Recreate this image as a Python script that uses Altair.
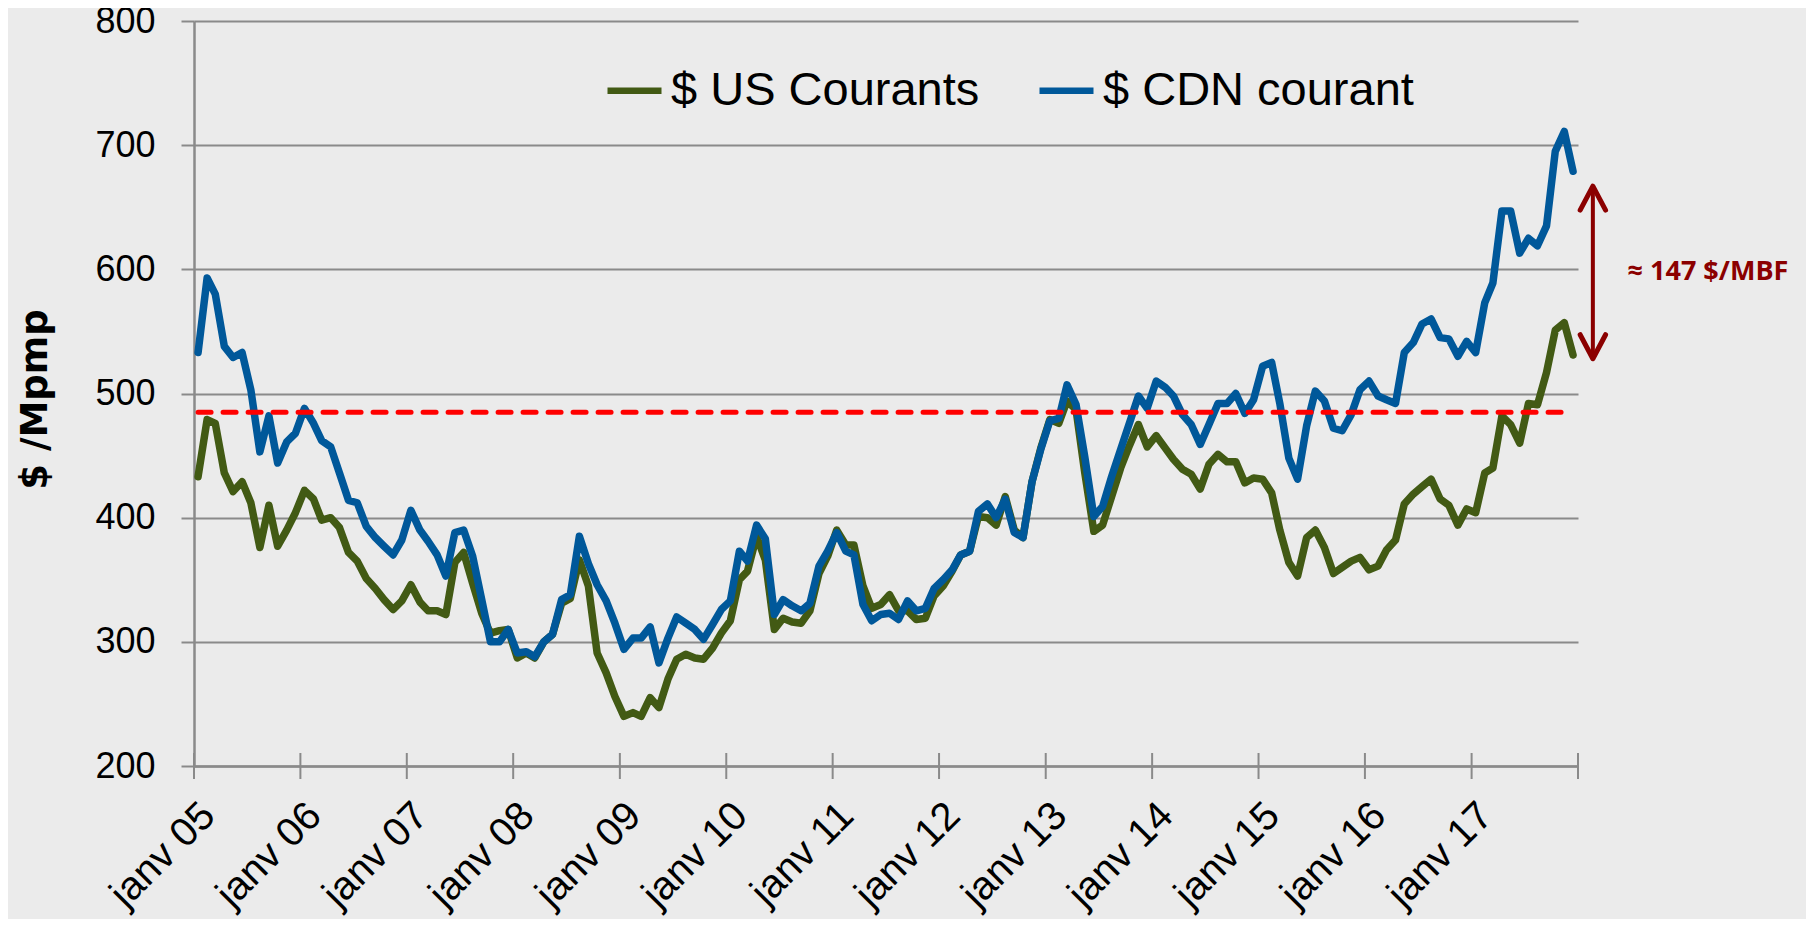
import altair as alt
import pandas as pd

# ---------------- data ----------------
months = [f"{2005 + i // 12}-{i % 12 + 1:02d}-15T00:00:00" for i in range(156)]

us_courants = [
    433, 479, 476, 436, 421, 429, 412, 376, 410, 377, 390, 404,
    422, 415, 398, 400, 392, 372, 365, 351, 343, 334, 326, 333,
    346, 332, 325, 325, 322, 364, 372, 347, 323, 307, 309, 310,
    287, 291, 287, 300, 306, 331, 335, 366, 345, 291, 275, 256,
    240, 243, 240, 255, 247, 270, 286, 290, 287, 286, 295, 307,
    317, 350, 357, 385, 366, 310, 319, 316, 315, 325, 355, 369,
    390, 378, 378, 345, 327, 330, 338, 325, 325, 318, 319, 337,
    345, 357, 370, 373, 401, 400, 394, 417, 390, 384, 429, 456,
    479, 476, 494, 487, 436, 389, 394, 417, 440, 458, 475, 457,
    466, 456, 447, 439, 435, 423, 443, 451, 445, 445, 428, 432,
    431, 420, 390, 364, 353, 384, 390, 376, 355, 360, 365, 368,
    358, 361, 374, 382, 411, 419, 425, 431, 415, 410, 394, 407,
    404, 436, 440, 482, 475, 460, 492, 491, 517, 551, 557, 531,
]

cdn_courant = [
    533, 593, 580, 538, 529, 533, 503, 453, 482, 444, 461, 468,
    488, 476, 462, 457, 436, 414, 412, 393, 384, 377, 370, 382,
    406, 390, 381, 370, 353, 388, 390, 369, 334, 300, 300, 310,
    291, 292, 288, 300, 306, 334, 338, 385, 363, 346, 333, 315,
    294, 303, 303, 312, 283, 303, 320, 315, 310, 302, 314, 326,
    333, 373, 365, 394, 383, 322, 334, 329, 325, 331, 361, 373,
    388, 373, 370, 330, 317, 322, 323, 318, 333, 325, 327, 343,
    350, 358, 370, 373, 405, 411, 400, 415, 388, 384, 429, 455,
    478, 480, 507, 491, 449, 401, 409, 433, 455, 476, 498, 488,
    510, 505, 498, 483, 475, 459, 475, 492, 492, 500, 484, 495,
    522, 525, 492, 448, 431, 474, 502, 494, 472, 470, 483, 503,
    510, 498, 495, 492, 533, 541, 556, 560, 545, 544, 530, 542,
    533, 573, 589, 647, 647, 613, 625, 619, 635, 695, 711, 679,
]

series_names = ["$ US Courants", "$ CDN courant"]
series_colors = ["#425A14", "#00589A"]

year_ticks = [f"{y}-01-01T00:00:00" for y in range(2005, 2019)]
y_ticks = [200, 300, 400, 500, 600, 700, 800]

reference_level = 485
gap_low = 528
gap_high = 667
gap_label = "≈ 147 $/MBF"
gap_arrow_date = "2018-02-21T00:00:00"
gap_text_date = "2018-06-20T00:00:00"

# ---------------- tables ----------------
df_us = pd.DataFrame({"date": months, "value": us_courants, "series": series_names[0]})
df_cdn = pd.DataFrame({"date": months, "value": cdn_courant, "series": series_names[1]})
df_ref = pd.DataFrame({"start": [months[0]], "end": [months[-1]], "level": [reference_level]})
df_ticks = pd.DataFrame({"date": year_ticks})
df_arrow = pd.DataFrame({"date": [gap_arrow_date], "lo": [gap_low], "hi": [gap_high]})
df_text = pd.DataFrame({"date": [gap_text_date], "value": [(gap_low + gap_high) / 2], "label": [gap_label]})

GRID = "#8A8A8A"
DARKRED = "#8B0000"

x_scale = alt.Scale(domain=[alt.DateTime(year=2005, month=1, date=1),
                            alt.DateTime(year=2018, month=1, date=1)])
y_scale = alt.Scale(domain=[200, 800], nice=False, zero=False)

x_axis = alt.Axis(
    values=[alt.DateTime(year=y, month=1, date=1) for y in range(2005, 2018)],
    labelExpr="'janv ' + timeFormat(datum.value, '%y')",
    labelAngle=-45, labelFont="Liberation Sans", labelFontSize=40,
    labelColor="black", labelPadding=29, ticks=False,
    domainColor=GRID, domainWidth=2.5, grid=False, title=None,
    labelOverlap=False, labelFlush=False,
)
y_axis = alt.Axis(
    values=y_ticks, labelFont="Liberation Sans", labelFontSize=36,
    labelColor="black", labelPadding=26, tickSize=13, tickColor=GRID,
    tickWidth=2, domainColor=GRID, domainWidth=2.5, grid=True,
    gridColor=GRID, gridWidth=2, title="$ /Mpmp", titleFont="DejaVu Sans",
    titleFontSize=37, titleFontWeight="bold", titleColor="black",
    titleX=-159, titleY=378, titleAlign="center", titleBaseline="middle",
    titleAngle=270,
)

color_scale = alt.Scale(domain=series_names, range=series_colors)
legend = alt.Legend(
    orient="none", legendX=410, legendY=39, direction="horizontal",
    title=None, labelFont="Liberation Sans", labelFontSize=47,
    labelColor="black", symbolType="stroke", symbolSize=2916,
    symbolStrokeWidth=6.5, labelOffset=6, columnPadding=46, padding=0,
    labelLimit=600,
)

line_style = dict(strokeWidth=7.5, strokeCap="round", strokeJoin="round")

line_us = alt.Chart(df_us).mark_line(**line_style).encode(
    x=alt.X("date:T", scale=x_scale, axis=x_axis),
    y=alt.Y("value:Q", scale=y_scale, axis=y_axis),
    color=alt.Color("series:N", scale=color_scale, legend=legend),
)
line_cdn = alt.Chart(df_cdn).mark_line(**line_style).encode(
    x=alt.X("date:T", scale=x_scale),
    y=alt.Y("value:Q", scale=y_scale),
    color=alt.Color("series:N", scale=color_scale, legend=legend),
)

ref_line = alt.Chart(df_ref).mark_rule(
    color="#FF0000", strokeWidth=5, strokeDash=[13, 12], strokeCap="round"
).encode(
    x=alt.X("start:T", scale=x_scale),
    x2="end:T",
    y=alt.Y("level:Q", scale=y_scale),
)

x_tick_marks = alt.Chart(df_ticks).mark_tick(
    orient="vertical", size=26, thickness=2, color=GRID, opacity=1
).encode(
    x=alt.X("date:T", scale=x_scale),
    y=alt.Y(datum=200, type="quantitative", scale=y_scale),
)

arrow_shaft = alt.Chart(df_arrow).mark_rule(color=DARKRED, strokeWidth=4).encode(
    x=alt.X("date:T", scale=x_scale),
    y=alt.Y("lo:Q", scale=y_scale),
    y2="hi:Q",
)
arrow_top = alt.Chart(df_arrow).mark_point(
    shape="M-1,1.89L0,0L1,1.89", size=645, filled=False, strokeWidth=5,
    color=DARKRED, opacity=1, strokeCap="round", strokeJoin="round",
).encode(
    x=alt.X("date:T", scale=x_scale),
    y=alt.Y("hi:Q", scale=y_scale),
)
arrow_bottom = alt.Chart(df_arrow).mark_point(
    shape="M-1,-1.89L0,0L1,-1.89", size=645, filled=False, strokeWidth=5,
    color=DARKRED, opacity=1, strokeCap="round", strokeJoin="round",
).encode(
    x=alt.X("date:T", scale=x_scale),
    y=alt.Y("lo:Q", scale=y_scale),
)
gap_text = alt.Chart(df_text).mark_text(
    align="left", baseline="middle", font="Open Sans", fontSize=27,
    fontWeight="bold", color=DARKRED,
).encode(
    x=alt.X("date:T", scale=x_scale),
    y=alt.Y("value:Q", scale=y_scale),
    text="label:N",
)

chart = alt.layer(
    line_us, line_cdn, ref_line, x_tick_marks,
    arrow_shaft, arrow_top, arrow_bottom, gap_text,
).properties(
    width=1384, height=745,
    autosize=alt.AutoSizeParams(type="none"),
    padding={"left": 186, "top": 13, "right": 228, "bottom": 153},
    background="#EBEBEB",
).configure_view(stroke=None)

chart.save("out.html", embed_options={"renderer": "svg", "actions": False})
